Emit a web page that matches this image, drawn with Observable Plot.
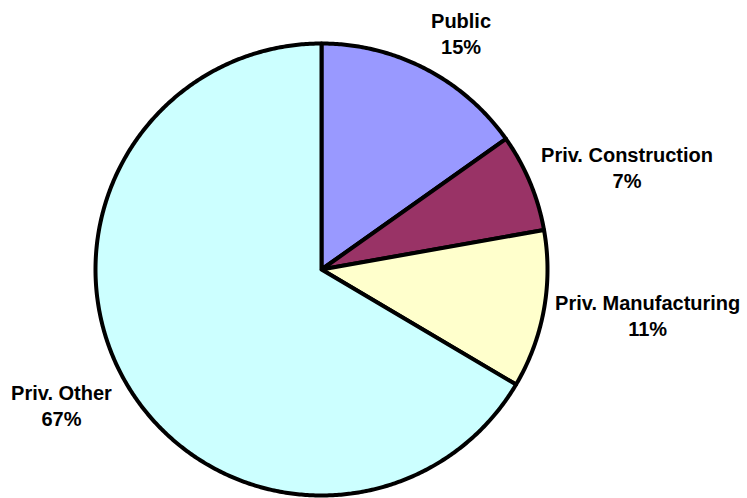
<!DOCTYPE html>
<html><head><meta charset="utf-8">
<script src="https://cdn.jsdelivr.net/npm/d3@7"></script>
<script src="https://cdn.jsdelivr.net/npm/@observablehq/plot@0.6"></script>
<style>body{margin:0;background:#fff}</style>
</head><body><div id="chart"></div>
<script>
// data
const categories = ["Public", "Priv. Construction", "Priv. Manufacturing", "Priv. Other"];
const shares = [15.2, 7.0, 11.3, 66.5];
const colors = ["#9999FF", "#993366", "#FFFFCC", "#CCFFFF"];

// layout of the outside labels (radius in pie radii, turn in degrees)
const labelRadius = [1.218, 1.426, 1.457, 1.296];
const labelTurn = [3.1, 4.1, -2.4, 2.3];

const arcs = d3.pie().sort(null).value(d => d)(shares);
const outline = [];
arcs.forEach((a, i) => {
  const name = categories[i];
  outline.push({name, x: 0, y: 0});
  const n = Math.max(2, Math.ceil((a.endAngle - a.startAngle) / (Math.PI / 360)));
  for (let k = 0; k <= n; k++) {
    const t = a.startAngle + (a.endAngle - a.startAngle) * k / n;
    outline.push({name, x: Math.sin(t), y: Math.cos(t)});
  }
  outline.push({name, x: 0, y: 0});
});

const labels = arcs.map((a, i) => {
  const t = (a.startAngle + a.endAngle) / 2 + labelTurn[i] * Math.PI / 180;
  return {
    x: labelRadius[i] * Math.sin(t),
    y: labelRadius[i] * Math.cos(t),
    text: categories[i] + "\n" + Math.round(shares[i]) + "%"
  };
});

const chart = Plot.plot({
  width: 747,
  height: 498,
  margin: 0,
  style: {background: "#fff", fontFamily: "'Liberation Sans', Arial, sans-serif"},
  x: {domain: [-1, 1], range: [95, 547], axis: null},
  y: {domain: [-1, 1], range: [495, 43], axis: null},
  color: {domain: categories, range: colors},
  marks: [
    Plot.line(outline, {x: "x", y: "y", z: "name", fill: "name", stroke: "black",
      strokeWidth: 4, strokeLinejoin: "round", strokeLinecap: "round", curve: "linear"}),
    Plot.text(labels, {x: "x", y: "y", text: "text", fontSize: 20, fontWeight: "bold",
      fill: "black", textAnchor: "middle", lineAnchor: "middle", lineHeight: 1.3})
  ]
});
document.getElementById("chart").appendChild(chart);
</script>
</body></html>
